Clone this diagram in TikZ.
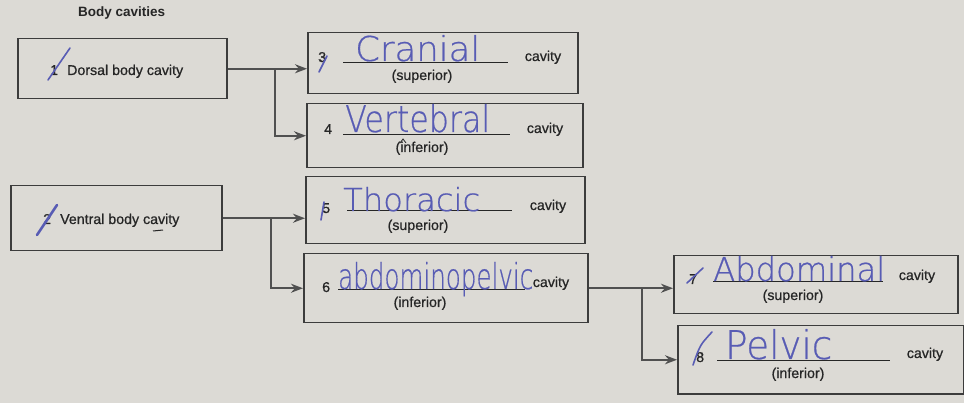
\documentclass[tikz,border=0pt]{standalone}
\usepackage{graphicx}
\usepackage{fontspec}
\setmainfont{Liberation Sans}
\newfontfamily\labelfont{Liberation Sans}[FakeBold=0.7]
\newfontfamily\handfont{DejaVu Sans ExtraLight}[FakeBold=0.6]
\usetikzlibrary{arrows.meta}

\definecolor{paper}{RGB}{220,218,213}
\definecolor{boxline}{RGB}{60,60,60}
\definecolor{print}{RGB}{38,38,38}
\definecolor{wire}{RGB}{80,80,80}
\definecolor{pen}{RGB}{88,92,180}

% handwritten answer, stretched to a given width and height
\newcommand{\hw}[3]{\resizebox{#1}{#2}{\handfont #3}}

\tikzset{
  card/.style={draw=boxline, line width=1.5pt, fill=paper, inner sep=0pt},
  lbl/.style={font=\labelfont\fontsize{14.2}{16}\selectfont, text=print, inner sep=0pt},
  titlelbl/.style={font=\bfseries\fontsize{13.5}{16}\selectfont, text=print, inner sep=0pt},
  hand/.style={text=pen, inner sep=0pt},
  conn/.style={draw=wire, line width=2pt, -{Stealth[length=12pt,width=9pt]}},
  rule/.style={draw=print, line width=1pt},
  penstroke/.style={draw=pen, line width=1.6pt, line cap=round},
}

\begin{document}
\begin{tikzpicture}[x=1pt,y=-1pt]
  \fill[paper] (0,0) rectangle (964,403);
  \useasboundingbox (0,0) rectangle (964,403);

  \node[titlelbl, anchor=base west] (title) at (78,17) {Body cavities};

  % boxes
  \node[card, anchor=north west, minimum width=209pt, minimum height=60pt] (dorsal) at (17,38) {};
  \node[card, anchor=north west, minimum width=211pt, minimum height=65pt] (ventral) at (10,185) {};
  \node[card, anchor=north west, minimum width=270pt, minimum height=61pt] (cranial) at (307,32) {};
  \node[card, anchor=north west, minimum width=276pt, minimum height=64pt] (vertebral) at (306,103) {};
  \node[card, anchor=north west, minimum width=279pt, minimum height=67pt] (thoracic) at (305,176) {};
  \node[card, anchor=north west, minimum width=284pt, minimum height=69pt] (abdpel) at (303,253) {};
  \node[card, anchor=north west, minimum width=284pt, minimum height=58pt] (abdominal) at (673,255) {};
  \node[card, anchor=north west, minimum width=286pt, minimum height=68pt] (pelvic) at (677,325) {};

  % connectors
  \coordinate (j1) at ([xshift=47pt]dorsal.east);
  \coordinate (j2) at ([xshift=48pt]ventral.east);
  \coordinate (j3) at ([xshift=53pt]abdpel.east);
  \draw[conn] (dorsal.east) -- (dorsal.east -| cranial.west);
  \draw[conn] (j1) |- (vertebral.west);
  \draw[conn] (ventral.east) -- (ventral.east -| thoracic.west);
  \draw[conn] (j2) |- (abdpel.west);
  \draw[conn] (abdpel.east) -- (abdpel.east -| abdominal.west);
  \draw[conn] (j3) |- (pelvic.west);

  % left column
  \node[lbl, anchor=base west] (n1) at (50,75) {1};
  \node[lbl, anchor=base west] (dorsaltxt) at (67,75) {Dorsal body cavity};
  \node[lbl, anchor=base west] (n2) at (43,224) {2};
  \node[lbl, anchor=base west] (ventraltxt) at (60,224) {Ventral body cavity};

  % answer lines
  \draw[rule] (343,63) -- (508,63);
  \draw[rule] (343,135) -- (510,135);
  \draw[rule] (347,211) -- (512,211);
  \draw[rule] (338,290) -- (525,290);
  \draw[rule] (713,282) -- (883,282);
  \draw[rule] (717,360) -- (890,360);

  % cranial
  \node[lbl, anchor=base west] (n3) at (318,62) {3};
  \node[lbl, anchor=base] (cav3) at (543,61) {cavity};
  \node[lbl, anchor=base] (sup3) at (422,80) {(superior)};
  \node[hand, anchor=base west] (a3) at (355,61) {\hw{125pt}{26pt}{Cranial}};

  % vertebral
  \node[lbl, anchor=base west] (n4) at (324,134) {4};
  \node[lbl, anchor=base] (cav4) at (545,133) {cavity};
  \node[lbl, anchor=base] (inf4) at (422,152) {(inferior)};
  \node[hand, anchor=base west] (a4) at (345,132) {\hw{145pt}{28pt}{Vertebral}};

  % thoracic
  \node[lbl, anchor=base west] (n5) at (322,213) {5};
  \node[lbl, anchor=base] (cav5) at (548,210) {cavity};
  \node[lbl, anchor=base] (sup5) at (418,230) {(superior)};
  \node[hand, anchor=base west] (a5) at (343,211) {\hw{137pt}{24pt}{Thoracic}};

  % abdominopelvic
  \node[lbl, anchor=base west] (n6) at (322,292) {6};
  \node[lbl, anchor=base] (cav6) at (551,287) {cavity};
  \node[lbl, anchor=base] (inf6) at (420,307) {(inferior)};
  \node[hand, anchor=base west] (a6) at (338,289) {\hw{195pt}{27pt}{abdominopelvic}};

  % abdominal
  \node[lbl, anchor=base west] (n7) at (689,284) {7};
  \node[lbl, anchor=base] (cav7) at (917,280) {cavity};
  \node[lbl, anchor=base] (sup7) at (793,300) {(superior)};
  \node[hand, anchor=base west] (a7) at (713,281) {\hw{172pt}{25pt}{Abdominal}};

  % pelvic
  \node[lbl, anchor=base west] (n8) at (696,362) {8};
  \node[lbl, anchor=base] (cav8) at (925,358) {cavity};
  \node[lbl, anchor=base] (inf8) at (798,378) {(inferior)};
  \node[hand, anchor=base west] (a8) at (725,359) {\hw{107pt}{30pt}{Pelvic}};

  % pen marks over the numbers
  \draw[penstroke] (48,80) -- (70,48);
  \draw[penstroke, line width=2.6pt] (37,235) -- (57,205);
  \draw[penstroke] (319,72) -- (327,56);
  \draw[penstroke] (321,220) -- (324,202);
  \draw[penstroke] (687,283) -- (703,268);
  \draw[penstroke] (693,365) .. controls (700,345) .. (712,332);
  \draw[print, line width=0.8pt] (400,143) -- (403,139) -- (406,143);
  \draw[print, line width=1pt] (153,231) -- (163,230);
\end{tikzpicture}
\end{document}
